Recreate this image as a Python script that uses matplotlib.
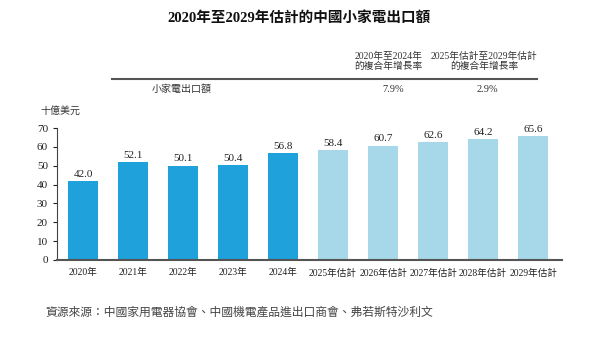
import matplotlib
matplotlib.use('Agg')
import matplotlib.pyplot as plt

plt.rcParams['font.family'] = ['Liberation Serif', 'Noto Sans CJK TC']

# data
years = ['2020年', '2021年', '2022年', '2023年', '2024年',
         '2025年估計', '2026年估計', '2027年估計', '2028年估計', '2029年估計']
values = [42.0, 52.1, 50.1, 50.4, 56.8, 58.4, 60.7, 62.6, 64.2, 65.6]
actual_n = 5
cagr_heads = ['2020年至2024年\n的複合年增長率', '2025年估計至2029年估計\n的複合年增長率']
cagr_vals = ['7.9%', '2.9%']
row_label = '小家電出口額'

dark = '#1fa1db'
light = '#a6d8ea'
colors = [dark if i < actual_n else light for i in range(len(values))]

fig = plt.figure(figsize=(6, 3.37), dpi=100)
ax = fig.add_axes([0.095, 0.2285, 0.842, 0.3915])

x = list(range(len(values)))
bars = ax.bar(x, values, width=0.6, color=colors)
for b, v in zip(bars, values):
    ax.text(b.get_x() + b.get_width() / 2, v + 1.2, f'{v:.1f}',
            ha='center', va='bottom', fontsize=8, color='#222222')

ax.set_xlim(-0.52, 9.58)
ax.set_ylim(0, 70)
ax.set_yticks(range(0, 71, 10))
ax.set_xticks(x)
ax.set_xticklabels(years, fontsize=6.9, color='#222222')
ax.tick_params(axis='y', labelsize=8, length=3, colors='#222222', width=0.8)
ax.tick_params(axis='x', length=0, pad=6)
for s in ['top', 'right']:
    ax.spines[s].set_visible(False)
ax.spines['left'].set_color('#444444')
ax.spines['left'].set_linewidth(0.8)
ax.spines['bottom'].set_color('#555555')
ax.spines['bottom'].set_linewidth(1.5)

# title and header table
fig.text(0.498, 0.948, '2020年至2029年估計的中國小家電出口額', ha='center', va='center',
         fontsize=10.5, fontweight='bold', color='#111111')
fig.text(0.647, 0.817, cagr_heads[0], ha='center', va='center', fontsize=7,
         color='#333333', linespacing=1.1)
fig.text(0.807, 0.817, cagr_heads[1], ha='center', va='center', fontsize=7,
         color='#333333', linespacing=1.1)
fig.add_artist(plt.Line2D([112 / 600, 537 / 600], [1 - 78.5 / 337, 1 - 78.5 / 337],
                          color='#555555', linewidth=1.5))
fig.text(0.303, 1 - 89 / 337, row_label, ha='center', va='center', fontsize=7.2, color='#333333')
fig.text(0.655, 1 - 90 / 337, cagr_vals[0], ha='center', va='center', fontsize=7.5, color='#333333')
fig.text(0.812, 1 - 90 / 337, cagr_vals[1], ha='center', va='center', fontsize=7.5, color='#333333')
fig.text(0.068, 1 - 111 / 337, '十億美元', ha='left', va='center', fontsize=7.2, color='#333333')

fig.text(0.075, 1 - 313 / 337, '資源來源：中國家用電器協會、中國機電產品進出口商會、弗若斯特沙利文',
         ha='left', va='center', fontsize=8.5, style='italic', color='#444444')

fig.savefig('out.png', dpi=100)
